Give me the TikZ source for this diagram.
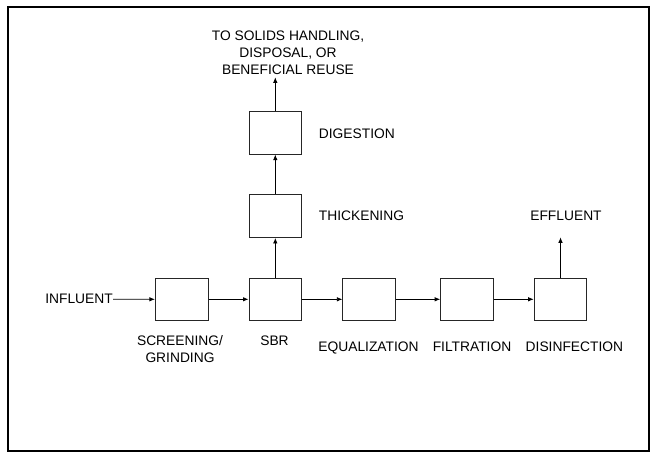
\documentclass[tikz,border=0pt]{standalone}
\usepackage{fontspec}
\setmainfont{Liberation Sans}
\usetikzlibrary{arrows.meta}
\begin{document}
\begin{tikzpicture}[x=1pt,y=-1pt,
  font=\fontsize{13.8}{16.7}\selectfont,
  unit/.style={draw=black!85,line width=1pt,minimum width=52.6pt,minimum height=42.5pt,inner sep=0pt},
  lbl/.style={inner sep=0pt,anchor=base},
  mlbl/.style={inner sep=0pt,anchor=north,align=center},
  flow/.style={line width=0.8pt,-{Latex[length=5.5pt,width=4.5pt]}}]
\useasboundingbox (0,0) rectangle (653,454);
\draw[line width=2pt] (7.5,7) rectangle (648.5,451);
% boxes
\node[unit] (screen) at (181.7,299.3) {};
\node[unit] (sbr) at (275.3,299.3) {};
\node[unit] (eq) at (369.2,299.3) {};
\node[unit] (filt) at (467,299.3) {};
\node[unit] (dis) at (560.5,299.3) {};
\node[unit] (thick) at (275.3,216.2) {};
\node[unit] (dig) at (275.3,132.8) {};
% labels
\node[inner sep=0pt,anchor=base east] (influent) at (113,304) {INFLUENT};
\node[mlbl] (screenlbl) at (180,335.8) {SCREENING/\\GRINDING};
\node[lbl] (sbrlbl) at (274.5,345.8) {SBR};
\node[lbl] (eqlbl) at (368.5,351) {EQUALIZATION};
\node[lbl] (filtlbl) at (472,351) {FILTRATION};
\node[lbl] (dislbl) at (574.4,351) {DISINFECTION};
\node[lbl,anchor=base west] (thicklbl) at (318.7,221) {THICKENING};
\node[lbl,anchor=base west] (diglbl) at (318.7,139) {DIGESTION};
\node[lbl] (efflbl) at (566,221) {EFFLUENT};
\node[mlbl] (solids) at (288,30.8) {TO SOLIDS HANDLING,\\DISPOSAL, OR\\BENEFICIAL REUSE};
\coordinate (solidsend) at (275.3,77.3);
\coordinate (effend) at (560.5,237.3);
% flows
\draw[flow] (influent.east) -- (screen.west);
\draw[flow] (screen.east) -- (sbr.west);
\draw[flow] (sbr.east) -- (eq.west);
\draw[flow] (eq.east) -- (filt.west);
\draw[flow] (filt.east) -- (dis.west);
\draw[flow] (sbr.north) -- (thick.south);
\draw[flow] (thick.north) -- (dig.south);
\draw[flow] (dig.north) -- (solidsend);
\draw[flow] (dis.north) -- (effend);
\end{tikzpicture}
\end{document}
